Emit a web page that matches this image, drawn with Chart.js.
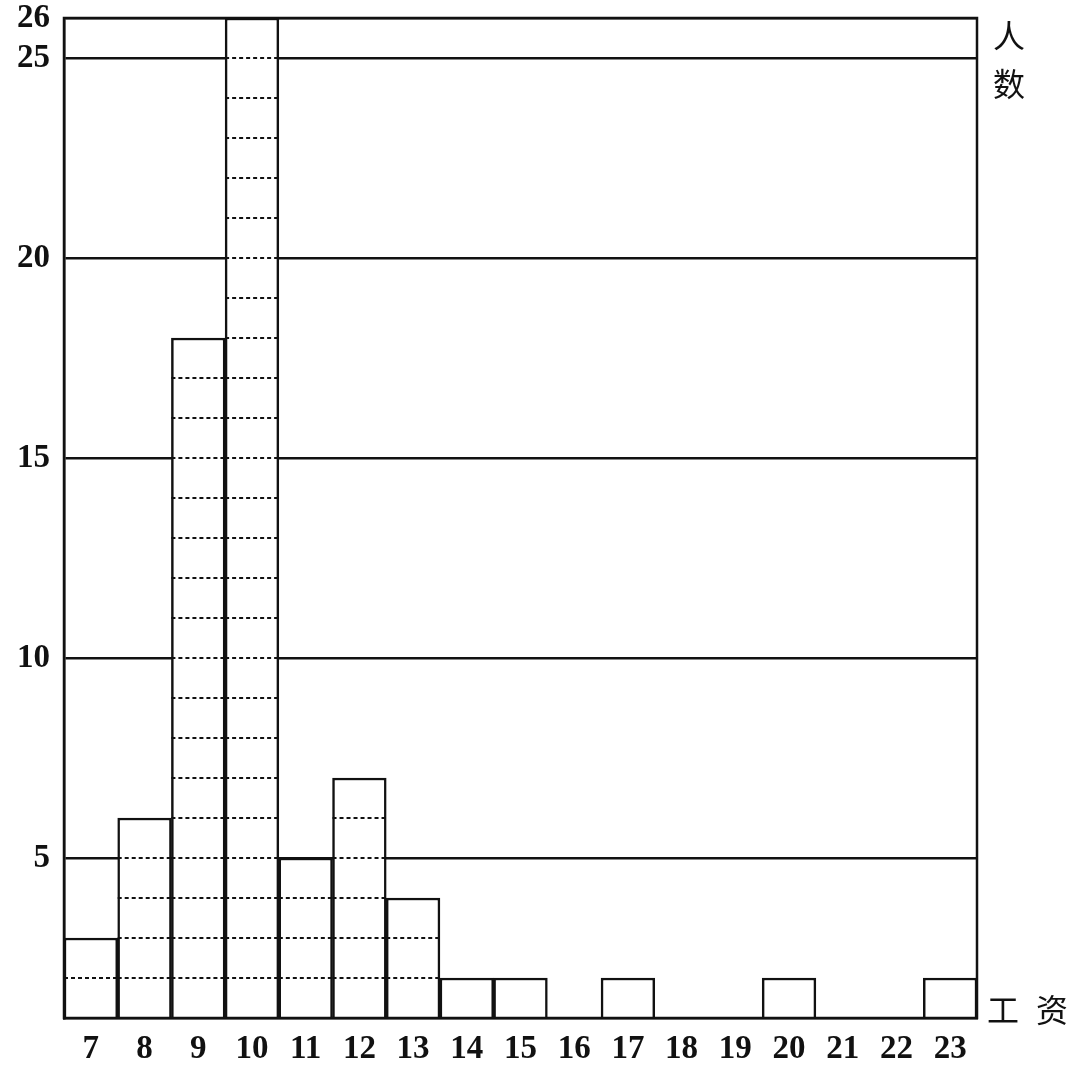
<!DOCTYPE html>
<html>
<head>
<meta charset="utf-8">
<script src="https://cdn.jsdelivr.net/npm/chart.js@4/dist/chart.umd.min.js"></script>
<style>
    html, body { margin: 0; padding: 0; background: #fff; }
    canvas { display: block; }
</style>
</head>
<body>
<canvas id="wage-chart" width="1074" height="1065"></canvas>
<script>
// 工资 (x) 与 人数 (y)
const wages = ['7', '8', '9', '10', '11', '12', '13', '14', '15', '16', '17', '18', '19', '20', '21', '22', '23'];
const counts = [3, 6, 18, 26, 5, 7, 4, 2, 2, null, 2, null, null, 2, null, null, 2];
const yTicks = [5, 10, 15, 20, 25, 26];
const yMin = 1;
const yMax = 26;

const serif = '"Liberation Serif", "DejaVu Serif", serif';
const cjk = '"Noto Sans CJK SC", sans-serif';

// 柱内的虚线（每一格一条）
const dottedLines = {
    id: 'dottedLines',
    afterDatasetsDraw(chart) {
        const ctx = chart.ctx;
        const yScale = chart.scales.y;
        const meta = chart.getDatasetMeta(0);
        ctx.save();
        ctx.strokeStyle = '#111';
        ctx.lineWidth = 2;
        ctx.setLineDash([4, 3]);
        meta.data.forEach((bar, i) => {
            const v = counts[i];
            if (v == null) return;
            const half = bar.width / 2;
            for (let k = yMin + 1; k < v; k++) {
                const py = Math.round(yScale.getPixelForValue(k));
                ctx.beginPath();
                ctx.moveTo(bar.x - half, py);
                ctx.lineTo(bar.x + half, py);
                ctx.stroke();
            }
        });
        ctx.restore();
    }
};

// 外框 + 右侧文字
const frameAndLabels = {
    id: 'frameAndLabels',
    afterDraw(chart) {
        const ctx = chart.ctx;
        const area = chart.chartArea;
        ctx.save();
        ctx.strokeStyle = '#111';
        ctx.lineWidth = 2.5;
        ctx.setLineDash([]);
        ctx.strokeRect(area.left, area.top, area.right - area.left, area.bottom - area.top);

        ctx.fillStyle = '#111';
        ctx.font = '32px ' + cjk;
        ctx.textAlign = 'center';
        ctx.textBaseline = 'middle';
        ctx.fillText('人', area.right + 32, area.top + 18);
        ctx.fillText('数', area.right + 32, area.top + 66);
        ctx.fillText('工', area.right + 26, area.bottom - 8);
        ctx.fillText('资', area.right + 75, area.bottom - 8);
        ctx.restore();
    }
};

new Chart(document.getElementById('wage-chart'), {
    type: 'bar',
    data: {
        labels: wages,
        datasets: [{
            data: counts,
            backgroundColor: '#fff',
            borderColor: '#111',
            borderWidth: 2.5,
            barPercentage: 1,
            categoryPercentage: 1
        }]
    },
    options: {
        responsive: false,
        animation: false,
        layout: { padding: { left: 0, right: 97, top: 18, bottom: 0 } },
        plugins: {
            legend: { display: false },
            tooltip: { enabled: false }
        },
        scales: {
            x: {
                grid: { display: false },
                border: { display: true, color: '#111', width: 2.5 },
                ticks: {
                    color: '#111',
                    padding: 4,
                    maxRotation: 0,
                    autoSkip: false,
                    font: { family: serif, size: 33, weight: 'bold' }
                },
                afterFit(scale) {
                    scale.height = 47;
                    scale.paddingLeft = 0;
                    scale.paddingRight = 0;
                }
            },
            y: {
                min: yMin,
                max: yMax,
                beginAtZero: false,
                grid: { color: '#111', lineWidth: 2.5, drawTicks: false },
                border: { display: true, color: '#111', width: 2.5 },
                ticks: {
                    color: '#111',
                    padding: 14,
                    font: { family: serif, size: 33, weight: 'bold' }
                },
                afterBuildTicks(scale) {
                    scale.ticks = yTicks.map(v => ({ value: v }));
                },
                afterFit(scale) {
                    scale.width = 64;
                    scale.paddingTop = 0;
                    scale.paddingBottom = 0;
                }
            }
        }
    },
    plugins: [dottedLines, frameAndLabels]
});
</script>
</body>
</html>
